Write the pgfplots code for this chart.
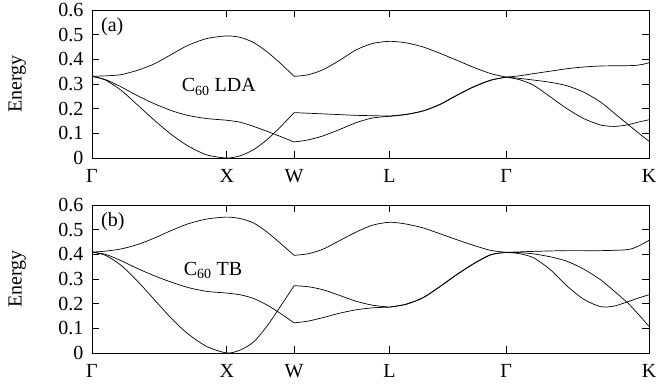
\documentclass[border=0pt]{standalone}
\usepackage{fontspec}
\setmainfont{Liberation Serif}
\usepackage{pgfplots}
\pgfplotsset{compat=1.18}
\pgfplotsset{
  band/.style={black, line width=0.7pt, smooth, tension=0.45, no markers},
  bandaxis/.style={
    scale only axis, width=557pt, height=148pt,
    xmin=0, xmax=4.1338, ymin=0, ymax=0.6,
    xtick={0,1,1.5,2.2071,3.0731,4.1338},
    xticklabels={Γ,X,W,L,Γ,K},
    ytick={0,0.1,0.2,0.3,0.4,0.5,0.6},
    tick align=inside, xtick pos=both, ytick pos=both,
    xticklabel pos=lower, yticklabel pos=left,
    xticklabel style={yshift=-8pt},
    yticklabel style={xshift=-5pt},
    major tick length=7pt,
    every tick/.style={black, line width=0.8pt},
    axis line style={line width=0.9pt},
    /pgf/number format/assume math mode=true,
    ylabel={Energy},
    ylabel style={at={(axis description cs:-0.134,0.5)}, anchor=center},
    clip=false,
  }
}
\begin{document}
\begin{tikzpicture}[font=\fontsize{20}{22}\selectfont]
\begin{axis}[bandaxis, at={(92pt,-158pt)}, anchor=south west]
% Gamma - X - W
\addplot[band] coordinates {(0,0.331)(0.1,0.333)(0.217,0.338)(0.34,0.356)(0.463,0.382)(0.59,0.42)(0.709,0.456)(0.85,0.484)(1.0,0.495)(1.1,0.489)(1.2,0.468)(1.3,0.43)(1.4,0.383)(1.5,0.331)};
\addplot[band] coordinates {(0,0.331)(0.1,0.318)(0.217,0.288)(0.34,0.252)(0.463,0.22)(0.59,0.192)(0.709,0.173)(0.85,0.16)(1.0,0.153)(1.1,0.145)(1.2,0.128)(1.3,0.108)(1.4,0.087)(1.5,0.065)};
\addplot[band] coordinates {(0,0.331)(0.1,0.316)(0.217,0.274)(0.34,0.214)(0.463,0.153)(0.59,0.095)(0.709,0.05)(0.85,0.013)(1.0,0.0)(1.1,0.009)(1.2,0.034)(1.3,0.075)(1.4,0.127)(1.5,0.184)};
% W - L - Gamma
\addplot[band] coordinates {(1.5,0.331)(1.6,0.337)(1.711,0.357)(1.835,0.395)(1.959,0.438)(2.08,0.464)(2.207,0.473)(2.33,0.467)(2.458,0.45)(2.58,0.425)(2.709,0.396)(2.84,0.366)(2.96,0.342)(3.0731,0.328)};
\addplot[band] coordinates {(1.5,0.184)(1.711,0.179)(1.835,0.176)(1.959,0.173)(2.207,0.170)};
\addplot[band] coordinates {(1.5,0.065)(1.6,0.073)(1.711,0.089)(1.835,0.115)(1.959,0.143)(2.08,0.162)(2.207,0.169)};
\addplot[band] coordinates {(2.207,0.170)(2.33,0.177)(2.458,0.191)(2.58,0.216)(2.709,0.254)(2.84,0.29)(2.96,0.315)(3.0731,0.328)};
\addplot[band] coordinates {(2.207,0.169)(2.33,0.176)(2.458,0.191)(2.58,0.217)(2.709,0.255)(2.84,0.291)(2.96,0.316)(3.0731,0.328)};
% Gamma - K
\addplot[band] coordinates {(3.0731,0.328)(3.17,0.333)(3.277,0.342)(3.401,0.352)(3.525,0.362)(3.65,0.369)(3.774,0.373)(3.898,0.374)(4.022,0.375)(4.08,0.379)(4.1338,0.386)};
\addplot[band] coordinates {(3.0731,0.328)(3.17,0.318)(3.277,0.295)(3.401,0.248)(3.525,0.2)(3.649,0.16)(3.774,0.134)(3.873,0.128)(3.972,0.134)(4.05,0.145)(4.1338,0.155)};
\addplot[band] coordinates {(3.0731,0.328)(3.17,0.323)(3.277,0.316)(3.401,0.307)(3.525,0.293)(3.649,0.267)(3.774,0.227)(3.873,0.183)(3.972,0.139)(4.05,0.104)(4.1338,0.068)};
\node[anchor=north west, inner sep=0pt] at (rel axis cs:0.016,0.95) {(a)};
\node[anchor=base west, inner sep=0pt] at (axis cs:0.665,0.268) {C\textsubscript{60} LDA};
\end{axis}
\begin{axis}[bandaxis, at={(92pt,-353pt)}, anchor=south west]
% Gamma - X - W
\addplot[band] coordinates {(0,0.409)(0.1,0.413)(0.217,0.422)(0.34,0.44)(0.463,0.466)(0.59,0.497)(0.709,0.523)(0.85,0.543)(1.0,0.551)(1.1,0.545)(1.2,0.527)(1.3,0.49)(1.4,0.444)(1.5,0.396)};
\addplot[band] coordinates {(0,0.409)(0.1,0.40)(0.217,0.374)(0.34,0.342)(0.463,0.313)(0.59,0.287)(0.709,0.266)(0.85,0.25)(1.0,0.243)(1.1,0.236)(1.2,0.221)(1.3,0.194)(1.4,0.16)(1.5,0.122)};
\addplot[band] coordinates {(0,0.409)(0.1,0.396)(0.217,0.355)(0.34,0.29)(0.463,0.216)(0.59,0.14)(0.709,0.079)(0.85,0.027)(1.0,0.0)(1.1,0.012)(1.2,0.045)(1.3,0.11)(1.4,0.19)(1.5,0.273)};
% W - L - Gamma
\addplot[band] coordinates {(1.5,0.396)(1.6,0.402)(1.711,0.42)(1.835,0.455)(1.959,0.49)(2.08,0.518)(2.207,0.53)(2.33,0.523)(2.458,0.507)(2.58,0.484)(2.709,0.459)(2.84,0.435)(2.96,0.416)(3.0731,0.408)};
\addplot[band] coordinates {(1.5,0.273)(1.6,0.269)(1.711,0.257)(1.835,0.234)(1.959,0.21)(2.08,0.194)(2.207,0.186)};
\addplot[band] coordinates {(1.5,0.122)(1.6,0.129)(1.711,0.143)(1.835,0.161)(1.959,0.175)(2.08,0.183)(2.207,0.186)};
\addplot[band] coordinates {(2.207,0.186)(2.33,0.197)(2.458,0.224)(2.58,0.268)(2.709,0.318)(2.84,0.364)(2.96,0.398)(3.0731,0.408)};
\addplot[band] coordinates {(2.207,0.186)(2.33,0.198)(2.458,0.225)(2.58,0.269)(2.709,0.319)(2.84,0.365)(2.96,0.399)(3.0731,0.408)};
% Gamma - K
\addplot[band] coordinates {(3.0731,0.408)(3.277,0.412)(3.525,0.415)(3.774,0.415)(3.972,0.419)(4.05,0.432)(4.1338,0.457)};
\addplot[band] coordinates {(3.0731,0.408)(3.17,0.403)(3.277,0.386)(3.401,0.338)(3.525,0.272)(3.649,0.218)(3.774,0.188)(3.873,0.19)(3.972,0.207)(4.05,0.222)(4.1338,0.236)};
\addplot[band] coordinates {(3.0731,0.408)(3.17,0.407)(3.277,0.402)(3.401,0.39)(3.525,0.372)(3.649,0.34)(3.774,0.297)(3.873,0.252)(3.972,0.205)(4.05,0.16)(4.1338,0.108)};
\node[anchor=north west, inner sep=0pt] at (rel axis cs:0.016,0.95) {(b)};
\node[anchor=base west, inner sep=0pt] at (axis cs:0.68,0.316) {C\textsubscript{60} TB};
\end{axis}
\pgfresetboundingbox
\useasboundingbox (0,0) rectangle (658pt,-383pt);
\end{tikzpicture}
\end{document}
